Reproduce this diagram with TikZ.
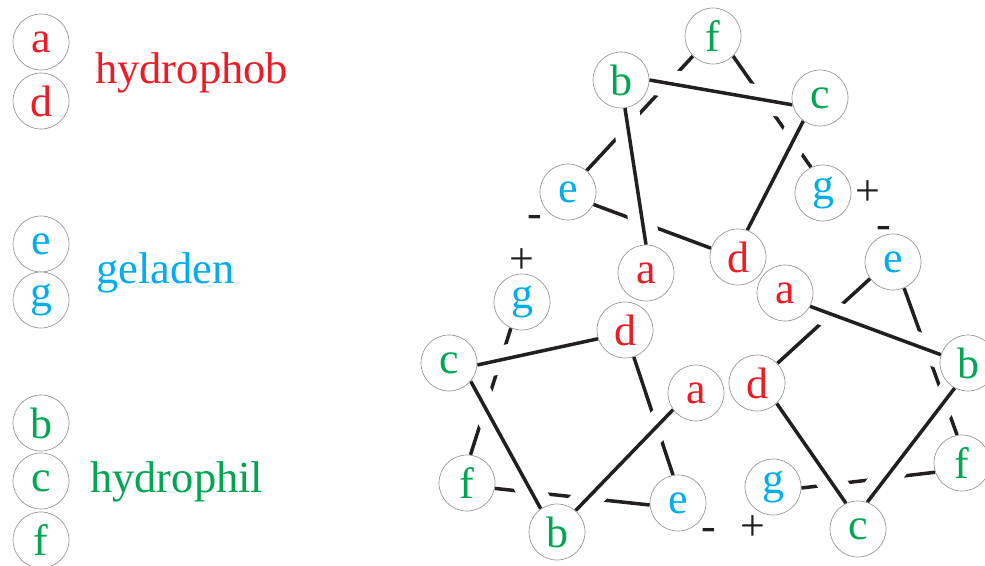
\documentclass[tikz,border=0pt]{standalone}
\usepackage{fontspec}
\setmainfont{Liberation Serif}
\definecolor{hred}{RGB}{237,28,36}
\definecolor{hblue}{RGB}{0,174,239}
\definecolor{hgreen}{RGB}{0,166,81}
\definecolor{lineblack}{RGB}{35,31,32}
\pgfdeclarelayer{bg}
\pgfsetlayers{bg,main}
\begin{document}
\begin{tikzpicture}[x=1pt,y=-1pt,
  ball/.style={circle,draw=black!40,line width=0.7pt,fill=white,minimum size=56pt,inner sep=0pt,font=\fontsize{44}{44}\selectfont},
  R/.style={ball,text=hred},
  B/.style={ball,text=hblue},
  G/.style={ball,text=hgreen},
  backline/.style={draw=lineblack,line width=3.5pt},
  gapline/.style={draw=white,line width=28pt},
  frontline/.style={draw=lineblack,line width=3.5pt},
  lbl/.style={font=\fontsize{44.5}{44.5}\selectfont,anchor=base west,inner sep=0pt},
  chg/.style={font=\fontsize{44}{44}\selectfont,inner sep=0pt,text=lineblack}]
\useasboundingbox (0,0) rectangle (985,565);

% legend
\node[R] (Ka) at (41,42) {a};
\node[R] (Kd) at (41,101) {d};
\node[B] (Ke) at (41,244) {e};
\node[B] (Kg) at (41,300) {g};
\node[G] (Kb) at (41,423) {b};
\node[G] (Kc) at (41,481) {c};
\node[G] (Kf) at (41,540) {f};
\node[lbl,text=hred] (Lhp) at (95,83) {hydrophob};
\node[lbl,text=hblue] (Lgl) at (96,283) {geladen};
\node[lbl,text=hgreen] (Lhl) at (90,492) {hydrophil};

% top wheel
\node[G] (Tf) at (713,36) {f};
\node[G] (Tb) at (621,80) {b};
\node[G] (Tc) at (820,98) {c};
\node[B] (Te) at (568,192) {e};
\node[B] (Tg) at (823,193) {g};
\node[R] (Ta) at (646,273) {a};
\node[R] (Td) at (738,257) {d};

% bottom-left wheel
\node[B] (Lg) at (522,302) {g};
\node[G] (Lc) at (449,363) {c};
\node[R] (Ld) at (625,330) {d};
\node[R] (La) at (696,393) {a};
\node[G] (Lf) at (467,483) {f};
\node[G] (Lb) at (557,532) {b};
\node[B] (Le) at (678,503) {e};

% bottom-right wheel
\node[R] (Ra) at (785,293) {a};
\node[B] (Re) at (893,262) {e};
\node[R] (Rd) at (757,383) {d};
\node[G] (Rb) at (968,363) {b};
\node[G] (Rf) at (962,463) {f};
\node[B] (Rg) at (773,487) {g};
\node[G] (Rc) at (858,529) {c};

% charges
\node[chg] (Tplus) at (868,193) {+};
\node[chg,anchor=base] (Tminus) at (535,227) {-};
\node[chg] (Lplus) at (522,261) {+};
\node[chg,anchor=base] (Lminus) at (709,540) {-};
\node[chg,anchor=base] (Rminus) at (884,238) {-};
\node[chg] (Rplus) at (753,528) {+};

\begin{pgfonlayer}{bg}
  \fill[white] (0,0) rectangle (985,565);
  % back connections (d-e, e-f, f-g)
  \draw[backline] (Td.162) -- (Te.334);
  \draw[backline] (Te.49)  -- (Tf.225);
  \draw[backline] (Tf.315) -- (Tg.115);
  \draw[backline] (Ld.288) -- (Le.100);
  \draw[backline] (Le.184) -- (Lf.349);
  \draw[backline] (Lf.83)  -- (Lg.247);
  \draw[backline] (Rd.44)  -- (Re.216);
  \draw[backline] (Re.293) -- (Rf.100);
  \draw[backline] (Rf.199) -- (Rg.358);
  % gaps under front connections
  \draw[gapline] (Ta.90)  -- (Tb.278);
  \draw[gapline] (Tb.0)   -- (Tc.194);
  \draw[gapline] (Tc.234) -- (Td.71);
  \draw[gapline] (La.216) -- (Lb.49);
  \draw[gapline] (Lb.125) -- (Lc.320);
  \draw[gapline] (Lc.356) -- (Ld.198);
  \draw[gapline] (Ra.332) -- (Rb.163);
  \draw[gapline] (Rb.242) -- (Rc.71);
  \draw[gapline] (Rc.115) -- (Rd.314);
  % front connections (a-b, b-c, c-d)
  \draw[frontline] (Ta.90)  -- (Tb.278);
  \draw[frontline] (Tb.0)   -- (Tc.194);
  \draw[frontline] (Tc.234) -- (Td.71);
  \draw[frontline] (La.216) -- (Lb.49);
  \draw[frontline] (Lb.125) -- (Lc.320);
  \draw[frontline] (Lc.356) -- (Ld.198);
  \draw[frontline] (Ra.332) -- (Rb.163);
  \draw[frontline] (Rb.242) -- (Rc.71);
  \draw[frontline] (Rc.115) -- (Rd.314);
\end{pgfonlayer}
\end{tikzpicture}
\end{document}
